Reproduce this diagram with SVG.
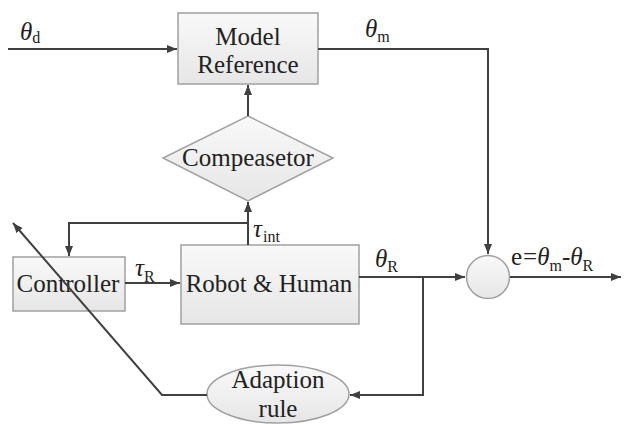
<svg xmlns="http://www.w3.org/2000/svg" width="624" height="424" viewBox="0 0 624 424">
<defs>
<linearGradient id="g" x1="0" y1="0" x2="0" y2="1">
<stop offset="0" stop-color="#f9f9f9"/>
<stop offset="1" stop-color="#e6e6e6"/>
</linearGradient>
<marker id="arr" viewBox="0 0 10 10" refX="10" refY="5" markerWidth="10" markerHeight="10" markerUnits="userSpaceOnUse" orient="auto">
<path d="M0,1 L10,5 L0,9 Z" fill="#404040"/>
</marker>
</defs>
<style>
.n{fill:url(#g);stroke:#a0a0a0;stroke-width:1.5}
.t{font-size:25px;fill:#222;text-anchor:middle}
.l{font-size:25px;fill:#222}
.s{font-size:16px;font-style:normal}
.c{fill:none;stroke:#404040;stroke-width:2}
</style>
<rect width="624" height="424" fill="#fff"/>
<g id="model-reference">
<rect class="n" x="178" y="13" width="140" height="71"/>
<text class="t" font-family="Liberation Serif, DejaVu Serif, serif" x="248" y="45">Model</text>
<text class="t" font-family="Liberation Serif, DejaVu Serif, serif" x="248" y="73">Reference</text>
</g>
<g id="compensator">
<polygon class="n" points="248,116 333,158 248,201 163,158"/>
<text class="t" font-family="Liberation Serif, DejaVu Serif, serif" x="248" y="166">Compeasetor</text>
</g>
<g id="controller">
<rect class="n" x="13" y="257" width="112" height="54"/>
<text class="t" font-family="Liberation Serif, DejaVu Serif, serif" x="68" y="292">Controller</text>
</g>
<g id="robot-human">
<rect class="n" x="181" y="245" width="178" height="79"/>
<text class="t" font-family="Liberation Serif, DejaVu Serif, serif" x="269" y="292">Robot &amp; Human</text>
</g>
<g id="sum">
<circle class="n" cx="488" cy="277" r="21.5"/>
</g>
<g id="adaption-rule">
<ellipse class="n" cx="278" cy="394" rx="71" ry="29"/>
<text class="t" font-family="Liberation Serif, DejaVu Serif, serif" x="278" y="388">Adaption</text>
<text class="t" font-family="Liberation Serif, DejaVu Serif, serif" x="278" y="417">rule</text>
</g>
<g id="connectors" class="c">
<path d="M8,49 H177" marker-end="url(#arr)"/>
<path d="M318,49 H488 V254" marker-end="url(#arr)"/>
<path d="M248,116 V85" marker-end="url(#arr)"/>
<path d="M248,245 V202" marker-end="url(#arr)"/>
<path d="M248,223 H69 V256" marker-end="url(#arr)"/>
<path d="M125,283 H180" marker-end="url(#arr)"/>
<path d="M359,277 H465" marker-end="url(#arr)"/>
<path d="M510,277 H621" marker-end="url(#arr)"/>
<path d="M423,277 V395 H350" marker-end="url(#arr)"/>
<path d="M207,395 H162 L13,223" marker-end="url(#arr)"/>
</g>
<g id="labels" font-family="Liberation Serif, DejaVu Serif, serif">
<text class="l" x="20" y="40"><tspan font-style="italic">θ</tspan><tspan class="s" dy="3">d</tspan></text>
<text class="l" x="365" y="37"><tspan font-style="italic">θ</tspan><tspan class="s" dy="5">m</tspan></text>
<text class="l" x="253" y="237"><tspan font-style="italic">τ</tspan><tspan class="s" dx="1" dy="5">int</tspan></text>
<text class="l" x="135" y="276"><tspan font-style="italic">τ</tspan><tspan class="s" dy="6">R</tspan></text>
<text class="l" x="375" y="267"><tspan font-style="italic">θ</tspan><tspan class="s" dy="5">R</tspan></text>
<text class="l" x="511" y="265">e<tspan dx="1">=</tspan><tspan font-style="italic">θ</tspan><tspan class="s" dy="6">m</tspan><tspan dy="-6">-</tspan><tspan font-style="italic">θ</tspan><tspan class="s" dy="6">R</tspan></text>
</g>
</svg>
